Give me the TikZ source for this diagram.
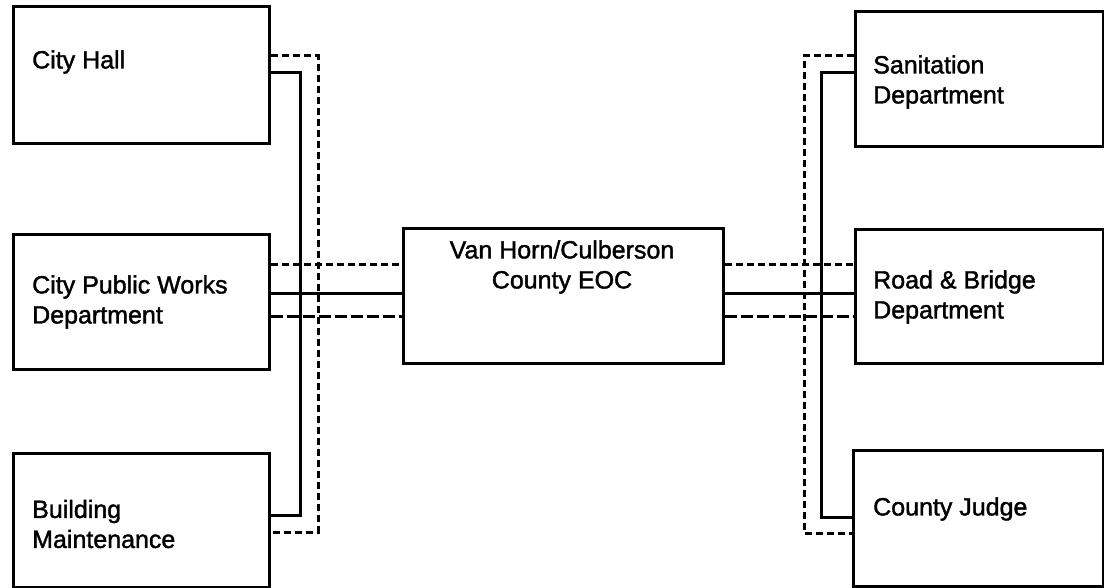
\documentclass[tikz,border=0pt]{standalone}
\usepackage{fontspec}
\setmainfont{Liberation Sans}[BoldFont=Liberation Sans, BoldFeatures={FakeBold=1.5}]
\tikzset{
  box/.style={draw, line width=3pt, inner sep=0pt, anchor=north west},
  lbl/.style={inner sep=0pt, align=left, anchor=west, font=\fontsize{25}{30}\selectfont\bfseries},
  clbl/.style={inner sep=0pt, align=center, font=\fontsize{25}{30}\selectfont\bfseries},
  solidc/.style={line width=3pt},
  shortdash/.style={line width=3pt, dash pattern=on 7pt off 4pt},
  longdash/.style={line width=3pt, dash pattern=on 12pt off 4pt}
}
\begin{document}
\begin{tikzpicture}[x=1pt,y=-1pt]
\useasboundingbox[fill=white] (0,0) rectangle (1104,588);
% left boxes
\node[box, minimum width=256pt, minimum height=137pt] (ch) at (12,5) {};
\node[box, minimum width=256pt, minimum height=135pt] (pw) at (12,233) {};
\node[box, minimum width=256pt, minimum height=134pt] (bm) at (12,452) {};
% centre
\node[box, minimum width=320pt, minimum height=135pt] (eoc) at (402,227) {};
% right boxes
\node[box, minimum width=248pt, minimum height=135pt] (sd) at (854,10) {};
\node[box, minimum width=248pt, minimum height=134pt] (rb) at (854,228) {};
\node[box, minimum width=250pt, minimum height=136pt] (cj) at (852,449) {};
% labels
\node[lbl] (tch) at (32,62) {City Hall};
\node[lbl] (tpw) at (32,302) {City Public Works\\Department};
\node[lbl] (tbm) at (32,524) {Building\\Maintenance};
\node[clbl] (teoc) at (562,267) {Van Horn/Culberson\\County EOC};
\node[lbl] (tsd) at (873,82) {Sanitation\\Department};
\node[lbl] (trb) at (873,297) {Road \& Bridge\\Department};
\node[lbl] (tcj) at (873,509) {County Judge};
% left bus
\draw[solidc] (ch.east |- 0,73) -- (300,73) -- (300,515) -- (bm.east |- 0,515);
\draw[shortdash] (ch.east |- 0,56) -- (318,56) -- (318,532) -- (bm.east |- 0,532);
% right bus
\draw[solidc] (sd.west |- 0,73) -- (821,73) -- (821,517) -- (cj.west |- 0,517);
\draw[shortdash] (sd.west |- 0,56) -- (804,56) -- (804,533) -- (cj.west |- 0,533);
% public works to EOC
\draw[shortdash] (pw.east |- 0,265) -- (eoc.west |- 0,265);
\draw[solidc] (pw.east |- 0,294) -- (eoc.west |- 0,294);
\draw[longdash] (pw.east |- 0,317) -- (eoc.west |- 0,317);
% EOC to road & bridge
\draw[shortdash] (eoc.east |- 0,265) -- (rb.west |- 0,265);
\draw[solidc] (eoc.east |- 0,294) -- (rb.west |- 0,294);
\draw[longdash] (eoc.east |- 0,317) -- (rb.west |- 0,317);
\end{tikzpicture}
\end{document}
